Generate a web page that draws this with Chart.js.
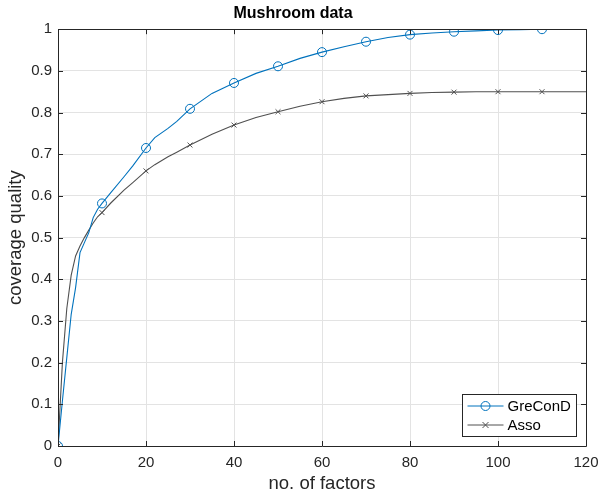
<!DOCTYPE html>
<html>
<head>
<meta charset="utf-8">
<script src="https://cdn.jsdelivr.net/npm/chart.js@4.4.0/dist/chart.umd.min.js"></script>
<style>
  html, body { margin: 0; padding: 0; background: #fff; }
</style>
</head>
<body>
<canvas id="coverageChart" width="601" height="493"></canvas>
<script>
// no. of factors (x)
var factors = [0, 1, 2, 3, 4, 5, 6, 7, 8, 9, 10, 12, 15, 17, 20, 22, 25, 27, 30, 35, 40, 45,
    50, 55, 60, 65, 70, 75, 80, 85, 90, 95, 100, 105, 110, 115, 120];

// coverage quality per method
var greConD = [0, 0.108, 0.212, 0.316, 0.38, 0.464, 0.488, 0.512, 0.548, 0.568, 0.582, 0.608, 0.646, 0.672, 0.715, 0.74, 0.762, 0.779, 0.809, 0.846, 0.871, 0.894,
    0.911, 0.93, 0.945, 0.958, 0.97, 0.98, 0.987, 0.991, 0.994, 0.996, 0.998, 0.999, 1.0, 1.0, 1.0];
var asso = [0, 0.2, 0.33, 0.41, 0.456, 0.48, 0.5, 0.518, 0.535, 0.55, 0.56, 0.583, 0.614, 0.632, 0.66, 0.675, 0.694, 0.705, 0.722, 0.748, 0.77, 0.788,
    0.802, 0.815, 0.826, 0.834, 0.84, 0.843, 0.846, 0.848, 0.849, 0.85, 0.85, 0.85, 0.85, 0.85, 0.85];

// markers are only shown every 10 factors
var markerFactors = [0, 10, 20, 30, 40, 50, 60, 70, 80, 90, 100, 110];

var xTicks = [0, 20, 40, 60, 80, 100, 120];
var yTicks = [0, 0.1, 0.2, 0.3, 0.4, 0.5, 0.6, 0.7, 0.8, 0.9, 1];

var FONT = 'Liberation Sans, Arial, Helvetica, sans-serif';
var AXIS_COLOR = '#262626';
var BLUE = '#0072BD';
var GRAY = '#505050';

function toPoints(values) {
    return factors.map(function(f, i) { return { x: f, y: values[i] }; });
}

function markerRadius(size) {
    return function(ctx) {
        return markerFactors.indexOf(ctx.raw.x) >= 0 ? size : 0;
    };
}

function drawMarker(ctx, style, x, y, color) {
    ctx.save();
    ctx.strokeStyle = color;
    ctx.lineWidth = 1;
    ctx.beginPath();
    if (style === 'circle') {
        ctx.arc(x, y, 4.5, 0, Math.PI * 2);
    } else {
        ctx.moveTo(x - 3, y - 3); ctx.lineTo(x + 3, y + 3);
        ctx.moveTo(x + 3, y - 3); ctx.lineTo(x - 3, y + 3);
    }
    ctx.stroke();
    ctx.restore();
}

// box round the axes, inward ticks on all sides, legend in the lower right
var boxPlugin = {
    id: 'matlabBox',
    afterDraw: function(chart) {
        var ctx = chart.ctx;
        var a = chart.chartArea;
        var xs = chart.scales.x, ys = chart.scales.y;
        ctx.save();
        ctx.strokeStyle = AXIS_COLOR;
        ctx.lineWidth = 1;
        ctx.beginPath();
        ctx.rect(Math.round(a.left) + 0.5, Math.round(a.top) + 0.5,
            Math.round(a.right - a.left), Math.round(a.bottom - a.top));
        xTicks.forEach(function(t) {
            var px = Math.round(xs.getPixelForValue(t)) + 0.5;
            ctx.moveTo(px, a.bottom); ctx.lineTo(px, a.bottom - 5);
            ctx.moveTo(px, a.top); ctx.lineTo(px, a.top + 5);
        });
        yTicks.forEach(function(t) {
            var py = Math.round(ys.getPixelForValue(t)) + 0.5;
            ctx.moveTo(a.left, py); ctx.lineTo(a.left + 5, py);
            ctx.moveTo(a.right, py); ctx.lineTo(a.right - 5, py);
        });
        ctx.stroke();

        // legend
        var bw = 114, bh = 42;
        var bx = Math.round(a.right - 10 - bw) + 0.5;
        var by = Math.round(a.bottom - 10 - bh) + 0.5;
        ctx.fillStyle = '#fff';
        ctx.fillRect(bx, by, bw, bh);
        ctx.strokeStyle = AXIS_COLOR;
        ctx.strokeRect(bx, by, bw, bh);
        var items = [
            { label: 'GreConD', color: BLUE, style: 'circle' },
            { label: 'Asso', color: GRAY, style: 'cross' }
        ];
        ctx.font = '15px ' + FONT;
        ctx.textBaseline = 'middle';
        items.forEach(function(it, i) {
            var cy = by + 11.5 + i * 19;
            ctx.strokeStyle = it.color;
            ctx.beginPath();
            ctx.moveTo(bx + 5, cy); ctx.lineTo(bx + 41, cy);
            ctx.stroke();
            drawMarker(ctx, it.style, bx + 23, cy, it.color);
            ctx.fillStyle = '#000';
            ctx.fillText(it.label, bx + 45, cy + 1);
        });
        ctx.restore();
    }
};

var ctx = document.getElementById('coverageChart').getContext('2d');
var coverageChart = new Chart(ctx, {
    type: 'line',
    data: {
        datasets: [{
            label: 'GreConD',
            data: toPoints(greConD),
            borderColor: BLUE,
            borderWidth: 1.1,
            pointStyle: 'circle',
            pointRadius: markerRadius(4.5),
            pointBorderColor: BLUE,
            pointBackgroundColor: 'rgba(0,0,0,0)',
            pointBorderWidth: 1,
            tension: 0
        }, {
            label: 'Asso',
            data: toPoints(asso),
            borderColor: GRAY,
            borderWidth: 1.1,
            pointStyle: 'crossRot',
            pointRadius: markerRadius(3.5),
            pointBorderColor: GRAY,
            pointBorderWidth: 1,
            tension: 0
        }]
    },
    options: {
        responsive: false,
        animation: false,
        layout: { padding: { left: 0, right: 15, top: 0, bottom: 0 } },
        plugins: {
            legend: { display: false },
            tooltip: { enabled: false },
            title: {
                display: true,
                text: 'Mushroom data',
                color: '#000',
                font: { family: FONT, size: 16, weight: 'bold' },
                padding: { top: 4, bottom: 6 }
            }
        },
        scales: {
            x: {
                type: 'linear',
                min: 0,
                max: 120,
                afterFit: function(scale) {
                    scale.height = 47;
                    scale.paddingLeft = 0;
                    scale.paddingRight = 0;
                },
                ticks: {
                    stepSize: 20,
                    color: AXIS_COLOR,
                    padding: 8,
                    maxRotation: 0,
                    font: { family: FONT, size: 15 }
                },
                grid: { color: '#e3e3e3', drawTicks: false },
                border: { display: false },
                title: {
                    display: true,
                    text: 'no. of factors',
                    color: AXIS_COLOR,
                    font: { family: FONT, size: 18.5 },
                    padding: { top: 0, bottom: -2 }
                }
            },
            y: {
                min: 0,
                max: 1,
                afterFit: function(scale) { scale.width = 58; },
                ticks: {
                    stepSize: 0.1,
                    color: AXIS_COLOR,
                    padding: 6,
                    font: { family: FONT, size: 15 },
                    callback: function(v) { return String(+v.toFixed(1)); }
                },
                grid: { color: '#e3e3e3', drawTicks: false },
                border: { display: false },
                title: {
                    display: true,
                    text: 'coverage quality',
                    color: AXIS_COLOR,
                    font: { family: FONT, size: 18.5 },
                    padding: { top: 5, bottom: 0 }
                }
            }
        }
    },
    plugins: [boxPlugin]
});
</script>
</body>
</html>
